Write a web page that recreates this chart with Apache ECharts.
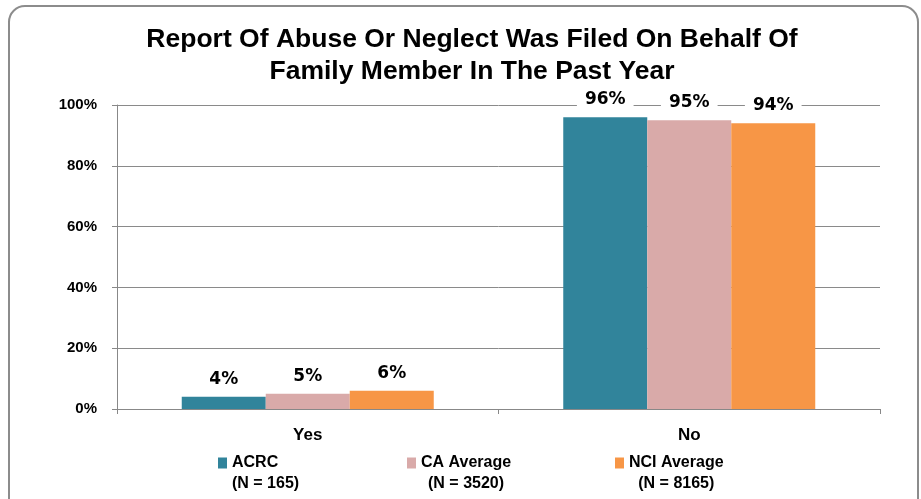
<!DOCTYPE html>
<html>
<head>
<meta charset="utf-8">
<script src="https://cdn.jsdelivr.net/npm/echarts@6/dist/echarts.min.js"></script>
<style>
  html, body { margin: 0; padding: 0; background: #fff; }
  #chart { width: 921px; height: 499px; }
</style>
</head>
<body>
<div id="chart"></div>
<script>
// Report of abuse or neglect filed on behalf of a family member, past year
const categories = ['Yes', 'No'];
const seriesNames = ['ACRC', 'CA Average', 'NCI Average'];
const sampleSizes = ['(N = 165)', '(N = 3520)', '(N = 8165)'];
const acrcValues = [4, 96];
const caValues = [5, 95];
const nciValues = [6, 94];
const yTicks = [0, 20, 40, 60, 80, 100];

const colors = ['#31849B', '#D9AAA9', '#F79646'];
const FONT = '"Liberation Sans", Arial, sans-serif';
const WIDE = '"DejaVu Sans", Verdana, sans-serif';

const chart = echarts.init(document.getElementById('chart'));

const values = [acrcValues, caValues, nciValues];
const legendLeft = [213, 402, 610];

const option = {
  animation: false,
  backgroundColor: '#fff',
  title: {
    text: 'Report Of Abuse Or Neglect Was Filed On Behalf Of\nFamily Member In The Past Year',
    left: 467,
    textAlign: 'center',
    top: 19,
    textStyle: { fontFamily: FONT, fontWeight: 'bold', fontSize: 26.5, lineHeight: 32, color: '#000' }
  },
  graphic: [{
    type: 'rect',
    shape: { x: 9, y: 6, width: 909, height: 510, r: 16 },
    style: { fill: 'none', stroke: '#8c8c8c', lineWidth: 2 },
    silent: true
  }],
  legend: seriesNames.map((name, i) => ({
    data: [name],
    left: legendLeft[i],
    top: 450,
    icon: 'rect',
    itemWidth: 9,
    itemHeight: 11,
    itemGap: 0,
    selectedMode: false,
    formatter: n => '{a|' + n + '}\n{b|' + sampleSizes[i] + '}',
    textStyle: {
      fontFamily: FONT, fontWeight: 'bold', fontSize: 16, color: '#000',
      padding: [21, 0, 0, 0],
      rich: {
        a: { fontFamily: FONT, fontWeight: 'bold', fontSize: 16, lineHeight: 21, color: '#000', align: 'left' },
        b: { fontFamily: FONT, fontWeight: 'bold', fontSize: 16, lineHeight: 21, color: '#000', align: 'center' }
      }
    }
  })),
  grid: { left: 117, right: 41, top: 105, bottom: 90, containLabel: false },
  xAxis: {
    type: 'category',
    data: categories,
    axisLine: { lineStyle: { color: '#888', width: 1 } },
    axisTick: { show: true, length: 5, lineStyle: { color: '#888' } },
    axisLabel: { fontFamily: FONT, fontWeight: 'bold', fontSize: 17, color: '#000', margin: 18 }
  },
  yAxis: {
    type: 'value',
    min: yTicks[0],
    max: yTicks[yTicks.length - 1],
    interval: yTicks[1] - yTicks[0],
    axisLine: { show: true, lineStyle: { color: '#888' } },
    axisTick: { show: true, length: 5, lineStyle: { color: '#888' } },
    splitLine: { lineStyle: { color: '#8a8a8a', width: 1 } },
    axisLabel: {
      fontFamily: FONT, fontWeight: 'bold', fontSize: 15, color: '#000', margin: 20,
      formatter: v => v + '%'
    }
  },
  series: seriesNames.map((name, i) => ({
    name,
    type: 'bar',
    data: values[i],
    barWidth: 84,
    barGap: '0%',
    itemStyle: { color: colors[i] },
    label: {
      show: true,
      position: 'top',
      distance: 8,
      formatter: p => p.value + '%',
      fontFamily: WIDE, fontWeight: 'bold', fontSize: 17, color: '#000',
      backgroundColor: '#fff',
      padding: [1, 8, 1, 8]
    }
  }))
};

chart.setOption(option);
</script>
</body>
</html>
